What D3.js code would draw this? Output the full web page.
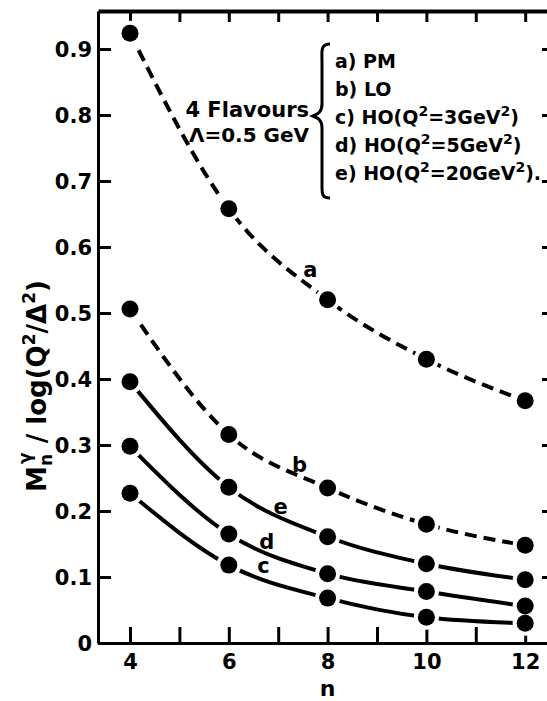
<!DOCTYPE html>
<html>
<head>
    <meta charset="utf-8">
    <title>Moments M_n / log(Q^2/Lambda^2)</title>
    <script src="https://d3js.org/d3.v7.min.js"></script>
    <style>
        body { margin: 0; background: #fff; }
        svg { display: block; }
        text { font-family: "DejaVu Sans", sans-serif; font-weight: bold; fill: #000; }
    </style>
</head>
<body>

<svg id="chart" width="547" height="701"></svg>

<script>
    // moments n
    var nValues = [4, 6, 8, 10, 12];

    // curves
    var seriesA = [0.924, 0.658, 0.52, 0.43, 0.367];   // PM
    var seriesB = [0.506, 0.316, 0.235, 0.18, 0.148];  // LO
    var seriesC = [0.227, 0.118, 0.068, 0.039, 0.030]; // HO Q2=3
    var seriesD = [0.298, 0.165, 0.105, 0.078, 0.056]; // HO Q2=5
    var seriesE = [0.396, 0.236, 0.161, 0.12, 0.096];  // HO Q2=20

    var xTicks = [4, 5, 6, 7, 8, 9, 10, 11, 12];
    var yTicks = [0, 0.1, 0.2, 0.3, 0.4, 0.5, 0.6, 0.7, 0.8, 0.9];

    // curve letters, placed in data coords (n, value)
    var curveLetters = ["a", "b", "e", "d", "c"];
    var letterN = [7.65, 7.43, 7.05, 6.77, 6.7];
    var letterV = [0.565, 0.27, 0.207, 0.154, 0.117];

    var legendLines = [
        ["a) PM"],
        ["b) LO"],
        ["c) HO(Q", "2", "=3GeV", "2", ")"],
        ["d) HO(Q", "2", "=5GeV", "2", ")"],
        ["e) HO(Q", "2", "=20GeV", "2", ")."]
    ];

    var series = [
        {name: "a", values: seriesA, dashed: true},
        {name: "b", values: seriesB, dashed: true},
        {name: "c", values: seriesC, dashed: false},
        {name: "d", values: seriesD, dashed: false},
        {name: "e", values: seriesE, dashed: false}
    ];

    var svg = d3.select("#chart");

    var x = d3.scaleLinear().domain([3.352, 12.543]).range([98, 552]);
    var y = d3.scaleLinear().domain([0, 0.9576]).range([643, 11]);

    // axes (ticks pointing inward)
    var gLeft = svg.append("g").attr("transform", "translate(98,0)")
        .call(d3.axisLeft(y).tickValues(yTicks).tickSize(-13).tickSizeOuter(0).tickPadding(6)
            .tickFormat(function(d) { return d === 0 ? "0" : d3.format(".1f")(d); }));
    var gBottom = svg.append("g").attr("transform", "translate(0,643)")
        .call(d3.axisBottom(x).tickValues(xTicks).tickSize(-16).tickSizeOuter(0).tickPadding(11)
            .tickFormat(function(d) { return d % 2 === 0 ? d : ""; }));
    var gTop = svg.append("g").attr("transform", "translate(0,11)")
        .call(d3.axisTop(x).tickValues(xTicks).tickSize(-11).tickSizeOuter(0).tickFormat(""));
    var gRight = svg.append("g").attr("transform", "translate(551,0)")
        .call(d3.axisRight(y).tickValues(yTicks).tickSize(-9).tickSizeOuter(0).tickFormat(""));

    svg.selectAll(".domain").attr("stroke", "#000").attr("stroke-width", 3);
    gTop.select(".domain").attr("stroke-width", 4);
    svg.selectAll(".tick line").attr("stroke", "#000").attr("stroke-width", 3);
    svg.selectAll(".tick text").attr("font-size", 21).attr("font-family", "DejaVu Sans").attr("font-weight", "bold");
    gLeft.selectAll(".tick text").attr("dy", "0.35em");
    gBottom.selectAll(".tick text").attr("dy", "0.71em");

    // curves
    var line = d3.line()
        .x(function(d, i) { return x(nValues[i]); })
        .y(function(d) { return y(d); })
        .curve(d3.curveMonotoneX);

    svg.append("g")
        .selectAll("path")
        .data(series)
        .enter().append("path")
        .attr("d", function(d) { return line(d.values); })
        .attr("fill", "none")
        .attr("stroke", "#000")
        .attr("stroke-width", 4)
        .attr("stroke-dasharray", function(d) { return d.dashed ? "12,7" : null; });

    // points: white halo first, then black dots
    var pts = [];
    series.forEach(function(s) {
        s.values.forEach(function(v, i) { pts.push([nValues[i], v]); });
    });

    svg.append("g").selectAll("circle")
        .data(pts)
        .enter().append("circle")
        .attr("cx", function(d) { return x(d[0]); })
        .attr("cy", function(d) { return y(d[1]); })
        .attr("r", 12.5)
        .attr("fill", "#fff");

    svg.append("g").selectAll("circle")
        .data(pts)
        .enter().append("circle")
        .attr("cx", function(d) { return x(d[0]); })
        .attr("cy", function(d) { return y(d[1]); })
        .attr("r", 8.5)
        .attr("fill", "#000");

    // letters on curves
    svg.append("g").selectAll("text")
        .data(curveLetters)
        .enter().append("text")
        .attr("x", function(d, i) { return x(letterN[i]); })
        .attr("y", function(d, i) { return y(letterV[i]); })
        .attr("dy", "0.35em")
        .attr("text-anchor", "middle")
        .attr("font-size", 21)
        .text(function(d) { return d; });

    // legend
    var legend = svg.append("g");
    legend.append("text").attr("x", 309).attr("y", 117).attr("text-anchor", "end")
        .attr("font-size", 21).text("4 Flavours");
    legend.append("text").attr("x", 309).attr("y", 142).attr("text-anchor", "end")
        .attr("font-size", 20).text("\u039b=0.5 GeV");

    legend.append("path")
        .attr("d", "M330,44 C320,44 322,52 322,62 L322,104 C322,112 318,114 313,116 C318,118 322,120 322,128 L322,186 C322,194 322,198 330,198")
        .attr("fill", "none").attr("stroke", "#000").attr("stroke-width", 3);

    legend.selectAll("text.entry")
        .data(legendLines)
        .enter().append("text")
        .attr("class", "entry")
        .attr("x", 335)
        .attr("y", function(d, i) { return 68 + i * 28; })
        .attr("font-size", 19)
        .each(function(parts) {
            var t = d3.select(this);
            parts.forEach(function(p, j) {
                var sup = j % 2 === 1;
                t.append("tspan")
                    .attr("font-size", sup ? 14 : 19)
                    .attr("dy", sup ? -8 : (j > 0 ? 8 : 0))
                    .text(p);
            });
        });

    // axis titles
    svg.append("text")
        .attr("x", x(8))
        .attr("y", 696)
        .attr("text-anchor", "middle")
        .attr("font-size", 22)
        .text("n");

    var yTitle = svg.append("text")
        .attr("transform", "translate(46,386) rotate(-90)")
        .attr("text-anchor", "middle")
        .attr("font-size", 26);
    yTitle.append("tspan").text("M");
    yTitle.append("tspan").attr("font-size", 17).attr("dy", 6).text("n");
    yTitle.append("tspan").attr("font-size", 17).attr("dx", -10).attr("dy", -21).text("\u03b3");
    yTitle.append("tspan").attr("dy", 15).text(" / log(Q");
    yTitle.append("tspan").attr("font-size", 17).attr("dy", -11).text("2");
    yTitle.append("tspan").attr("dy", 11).text("/\u0394");
    yTitle.append("tspan").attr("font-size", 17).attr("dy", -11).text("2");
    yTitle.append("tspan").attr("dy", 11).text(")");
</script>
</body>
</html>
